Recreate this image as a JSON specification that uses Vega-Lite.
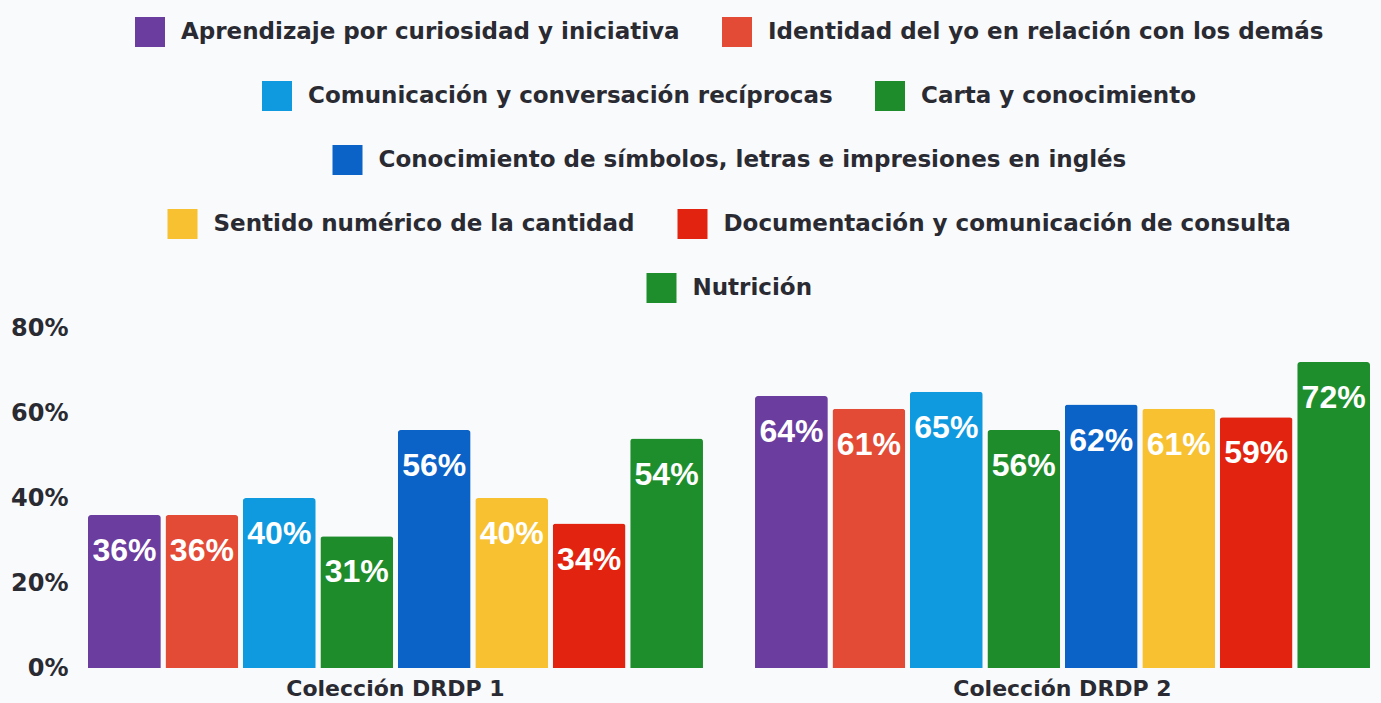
{
  "$schema": "https://vega.github.io/schema/vega-lite/v6.json",
  "width": 1282,
  "height": 340,
  "autosize": {"type": "none"},
  "padding": {"left": 88, "top": 328, "right": 11, "bottom": 35},
  "background": "#f9fafb",
  "data": {"values": [
    {"coleccion": "Colección DRDP 1", "area": "Aprendizaje por curiosidad y iniciativa", "valor": 0.36},
    {"coleccion": "Colección DRDP 1", "area": "Identidad del yo en relación con los demás", "valor": 0.36},
    {"coleccion": "Colección DRDP 1", "area": "Comunicación y conversación recíprocas", "valor": 0.40},
    {"coleccion": "Colección DRDP 1", "area": "Carta y conocimiento", "valor": 0.31},
    {"coleccion": "Colección DRDP 1", "area": "Conocimiento de símbolos, letras e impresiones en inglés", "valor": 0.56},
    {"coleccion": "Colección DRDP 1", "area": "Sentido numérico de la cantidad", "valor": 0.40},
    {"coleccion": "Colección DRDP 1", "area": "Documentación y comunicación de consulta", "valor": 0.34},
    {"coleccion": "Colección DRDP 1", "area": "Nutrición", "valor": 0.54},
    {"coleccion": "Colección DRDP 2", "area": "Aprendizaje por curiosidad y iniciativa", "valor": 0.64},
    {"coleccion": "Colección DRDP 2", "area": "Identidad del yo en relación con los demás", "valor": 0.61},
    {"coleccion": "Colección DRDP 2", "area": "Comunicación y conversación recíprocas", "valor": 0.65},
    {"coleccion": "Colección DRDP 2", "area": "Carta y conocimiento", "valor": 0.56},
    {"coleccion": "Colección DRDP 2", "area": "Conocimiento de símbolos, letras e impresiones en inglés", "valor": 0.62},
    {"coleccion": "Colección DRDP 2", "area": "Sentido numérico de la cantidad", "valor": 0.61},
    {"coleccion": "Colección DRDP 2", "area": "Documentación y comunicación de consulta", "valor": 0.59},
    {"coleccion": "Colección DRDP 2", "area": "Nutrición", "valor": 0.72}
  ]},
  "encoding": {
    "x": {
      "field": "coleccion", "type": "nominal", "title": null,
      "scale": {"paddingInner": 0.078, "paddingOuter": 0},
      "axis": {"labelAngle": 0, "domain": false, "ticks": false, "labelPadding": 10, "labelFontSize": 22, "labelLimit": 600, "labelFont": "DejaVu Sans", "labelFontWeight": "bold", "labelColor": "#2a2a33"}
    },
    "xOffset": {
      "field": "area", "type": "nominal",
      "scale": {"domain": [
        "Aprendizaje por curiosidad y iniciativa",
        "Identidad del yo en relación con los demás",
        "Comunicación y conversación recíprocas",
        "Carta y conocimiento",
        "Conocimiento de símbolos, letras e impresiones en inglés",
        "Sentido numérico de la cantidad",
        "Documentación y comunicación de consulta",
        "Nutrición"
      ], "paddingInner": 0.06, "paddingOuter": 0}
    },
    "y": {
      "field": "valor", "type": "quantitative", "title": null,
      "scale": {"domain": [0, 0.8]},
      "axis": {"values": [0, 0.2, 0.4, 0.6, 0.8], "format": ".0%", "domain": false, "ticks": false, "grid": false, "labelPadding": 20, "labelFontSize": 24, "labelFont": "DejaVu Sans", "labelFontWeight": "bold", "labelColor": "#2a2a33"}
    }
  },
  "layer": [
    {
      "transform": [{"filter": {"field": "area", "oneOf": ["Aprendizaje por curiosidad y iniciativa", "Identidad del yo en relación con los demás"]}}],
      "encoding": {
        "color": {"field": "area", "type": "nominal", "scale": {"domain": ["Aprendizaje por curiosidad y iniciativa", "Identidad del yo en relación con los demás"], "range": ["#6a3d9e", "#e34b36"]}, "legend": {"orient": "top", "direction": "horizontal", "title": null}}
      },
      "layer": [
        {"mark": {"type": "bar", "cornerRadiusTopLeft": 3, "cornerRadiusTopRight": 3}},
        {"mark": {"type": "text", "baseline": "top", "dy": 21, "fontSize": 32, "font": "Liberation Sans", "fontWeight": "bold", "fill": "#ffffff"}, "encoding": {"text": {"field": "valor", "type": "quantitative", "format": ".0%"}, "color": {"value": "#ffffff"}}}
      ]
    },
    {
      "transform": [{"filter": {"field": "area", "oneOf": ["Comunicación y conversación recíprocas", "Carta y conocimiento"]}}],
      "encoding": {
        "color": {"field": "area", "type": "nominal", "scale": {"domain": ["Comunicación y conversación recíprocas", "Carta y conocimiento"], "range": ["#0f9ae0", "#1e8c2b"]}, "legend": {"orient": "top", "direction": "horizontal", "title": null}}
      },
      "layer": [
        {"mark": {"type": "bar", "cornerRadiusTopLeft": 3, "cornerRadiusTopRight": 3}},
        {"mark": {"type": "text", "baseline": "top", "dy": 21, "fontSize": 32, "font": "Liberation Sans", "fontWeight": "bold", "fill": "#ffffff"}, "encoding": {"text": {"field": "valor", "type": "quantitative", "format": ".0%"}, "color": {"value": "#ffffff"}}}
      ]
    },
    {
      "transform": [{"filter": {"field": "area", "oneOf": ["Conocimiento de símbolos, letras e impresiones en inglés"]}}],
      "encoding": {
        "color": {"field": "area", "type": "nominal", "scale": {"domain": ["Conocimiento de símbolos, letras e impresiones en inglés"], "range": ["#0b62c7"]}, "legend": {"orient": "top", "direction": "horizontal", "title": null}}
      },
      "layer": [
        {"mark": {"type": "bar", "cornerRadiusTopLeft": 3, "cornerRadiusTopRight": 3}},
        {"mark": {"type": "text", "baseline": "top", "dy": 21, "fontSize": 32, "font": "Liberation Sans", "fontWeight": "bold", "fill": "#ffffff"}, "encoding": {"text": {"field": "valor", "type": "quantitative", "format": ".0%"}, "color": {"value": "#ffffff"}}}
      ]
    },
    {
      "encoding": {
        "color": {"field": "area", "type": "nominal", "scale": {"domain": ["Sentido numérico de la cantidad", "Documentación y comunicación de consulta"], "range": ["#f7c131", "#e2230f"]}, "legend": {"orient": "top", "direction": "horizontal", "title": null}}
      },
      "layer": [
        {"transform": [{"filter": {"field": "area", "equal": "Sentido numérico de la cantidad"}}], "mark": {"type": "bar", "cornerRadiusTopLeft": 3, "cornerRadiusTopRight": 3}},
        {"transform": [{"filter": {"field": "area", "equal": "Sentido numérico de la cantidad"}}], "mark": {"type": "text", "baseline": "top", "dy": 21, "fontSize": 32, "font": "Liberation Sans", "fontWeight": "bold", "fill": "#ffffff"}, "encoding": {"text": {"field": "valor", "type": "quantitative", "format": ".0%"}, "color": {"value": "#ffffff"}}},
        {"transform": [{"filter": {"field": "area", "equal": "Documentación y comunicación de consulta"}}], "mark": {"type": "bar", "cornerRadiusTopLeft": 3, "cornerRadiusTopRight": 3}},
        {"transform": [{"filter": {"field": "area", "equal": "Documentación y comunicación de consulta"}}], "mark": {"type": "text", "baseline": "top", "dy": 21, "fontSize": 32, "font": "Liberation Sans", "fontWeight": "bold", "fill": "#ffffff"}, "encoding": {"text": {"field": "valor", "type": "quantitative", "format": ".0%"}, "color": {"value": "#ffffff"}}}
      ]
    },
    {
      "transform": [{"filter": {"field": "area", "oneOf": ["Nutrición"]}}],
      "encoding": {
        "color": {"field": "area", "type": "nominal", "scale": {"domain": ["Nutrición"], "range": ["#1e8e2c"]}, "legend": {"orient": "top", "direction": "horizontal", "title": null}}
      },
      "layer": [
        {"mark": {"type": "bar", "cornerRadiusTopLeft": 3, "cornerRadiusTopRight": 3}},
        {"mark": {"type": "text", "baseline": "top", "dy": 21, "fontSize": 32, "font": "Liberation Sans", "fontWeight": "bold", "fill": "#ffffff"}, "encoding": {"text": {"field": "valor", "type": "quantitative", "format": ".0%"}, "color": {"value": "#ffffff"}}}
      ]
    }
  ],
  "resolve": {"scale": {"color": "independent"}, "legend": {"color": "independent"}},
  "config": {
    "view": {"stroke": null},
    "legend": {
      "labelFont": "DejaVu Sans",
      "labelFontSize": 23,
      "labelFontWeight": "bold",
      "labelColor": "#2a2a33",
      "labelLimit": 900,
      "labelOffset": 16,
      "columnPadding": 42,
      "symbolType": "square",
      "symbolSize": 900,
      "symbolStrokeWidth": 0,
      "symbolOpacity": 1,
      "offset": 25,
      "layout": {"top": {"anchor": "middle", "direction": "vertical", "center": true, "margin": 34}}
    }
  }
}
